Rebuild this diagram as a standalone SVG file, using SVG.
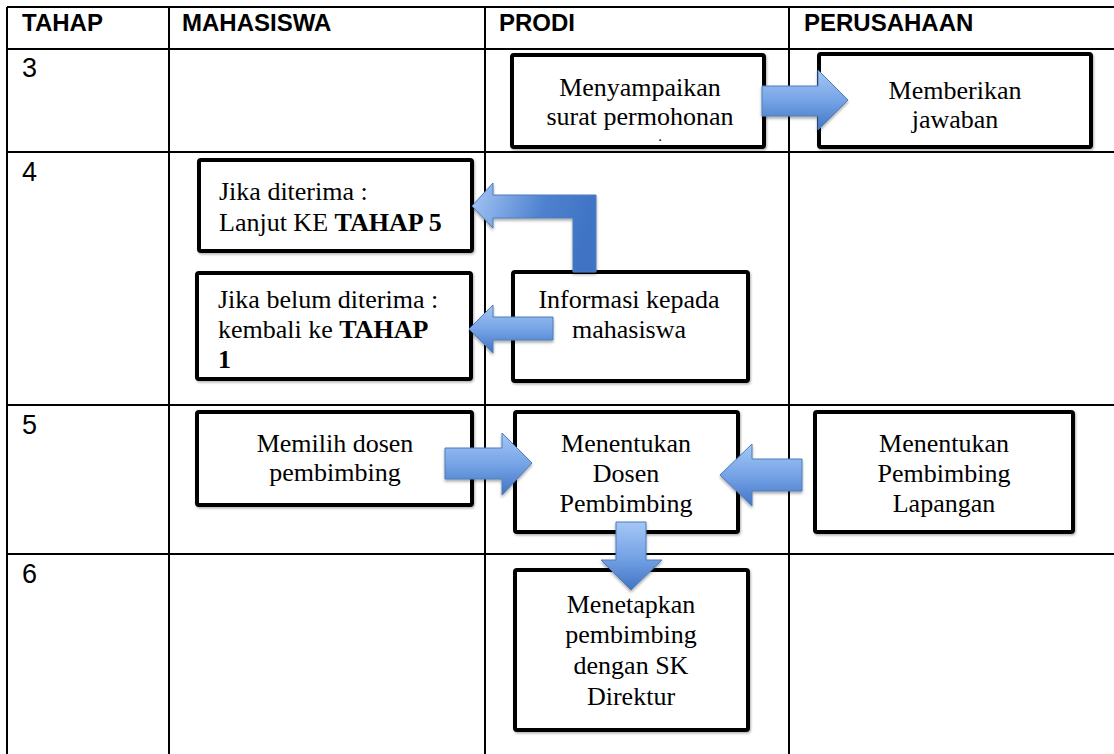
<svg xmlns="http://www.w3.org/2000/svg" width="1114" height="754" viewBox="0 0 1114 754">
<defs>
<linearGradient id="gv" x1="0" y1="0" x2="0" y2="1">
<stop offset="0" stop-color="#a6c7f6"/>
<stop offset="0.5" stop-color="#76a4e6"/>
<stop offset="1" stop-color="#4274c5"/>
</linearGradient>
<linearGradient id="gh" x1="0" y1="0" x2="1" y2="0.25">
<stop offset="0" stop-color="#a6c7f6"/>
<stop offset="0.6" stop-color="#4f82cf"/>
<stop offset="1" stop-color="#3f73c4"/>
</linearGradient>
<filter id="sh" x="-20%" y="-20%" width="140%" height="150%">
<feDropShadow dx="0" dy="2" stdDeviation="1.5" flood-color="#000" flood-opacity="0.35"/>
</filter>
<filter id="bs" x="-5%" y="-5%" width="110%" height="115%">
<feDropShadow dx="1" dy="1.5" stdDeviation="1" flood-color="#000" flood-opacity="0.3"/>
</filter>
</defs>
<style>
.grid{stroke:#000;stroke-width:2;fill:none}
.hd{font-family:"Liberation Sans",Arial,sans-serif;font-weight:bold;font-size:24px;fill:#000}
.num{font-family:"Liberation Sans",Arial,sans-serif;font-size:27px;fill:#000}
.box{fill:#fff;stroke:#000;stroke-width:4;filter:url(#bs)}
.t{font-family:"Liberation Serif","Times New Roman",serif;font-size:26px;fill:#000}
.c{text-anchor:middle}
.b{font-weight:bold}
.dot{font-family:"Liberation Serif","Times New Roman",serif;font-size:11px;font-weight:bold;fill:#000;text-anchor:middle}
.arrow{fill:url(#gv);stroke:#4a7ebb;stroke-width:1;filter:url(#sh)}
.bent{fill:url(#gh);stroke:#4a7ebb;stroke-width:1;filter:url(#sh)}
</style>
<rect width="1114" height="754" fill="#fff"/>
<g id="table">
<path class="grid" d="M7,7 H1114 M7,49 H1114 M7,152 H1114 M7,405 H1114 M7,554 H1114 M7,7 V754 M169,7 V754 M485,7 V754 M789,7 V754"/>
<text class="hd" x="22" y="31">TAHAP</text>
<text class="hd" x="182" y="31">MAHASISWA</text>
<text class="hd" x="499" y="31">PRODI</text>
<text class="hd" x="804" y="31">PERUSAHAAN</text>
<text class="num" x="22" y="77">3</text>
<text class="num" x="22" y="181">4</text>
<text class="num" x="22" y="434">5</text>
<text class="num" x="22" y="583">6</text>
</g>
<g id="n-menyampaikan">
<rect class="box" x="512" y="55" width="252" height="92" rx="2"/>
<text class="t c" x="640" y="96">Menyampaikan</text>
<text class="t c" x="640" y="125">surat permohonan</text>
<text class="dot" x="660" y="141">.</text>
</g>
<g id="n-memberikan">
<rect class="box" x="819" y="54" width="272" height="93" rx="2"/>
<text class="t c" x="955" y="99">Memberikan</text>
<text class="t c" x="955" y="128">jawaban</text>
</g>
<g id="n-diterima">
<rect class="box" x="199" y="160" width="273" height="91" rx="2"/>
<text class="t" x="219" y="200">Jika diterima :</text>
<text class="t" x="219" y="231">Lanjut KE <tspan class="b">TAHAP 5</tspan></text>
</g>
<g id="n-belum">
<rect class="box" x="197" y="273" width="274" height="106" rx="2"/>
<text class="t" x="218" y="308">Jika belum diterima :</text>
<text class="t" x="218" y="338">kembali ke <tspan class="b">TAHAP</tspan></text>
<text class="t b" x="218" y="368">1</text>
</g>
<g id="n-informasi">
<rect class="box" x="513" y="272" width="235" height="109" rx="2"/>
<text class="t c" x="629" y="308">Informasi kepada</text>
<text class="t c" x="629" y="338">mahasiswa</text>
</g>
<g id="n-memilih">
<rect class="box" x="197" y="412" width="275" height="93" rx="2"/>
<text class="t c" x="335" y="452">Memilih dosen</text>
<text class="t c" x="335" y="481">pembimbing</text>
</g>
<g id="n-dosen">
<rect class="box" x="515" y="412" width="223" height="120" rx="2"/>
<text class="t c" x="626" y="452">Menentukan</text>
<text class="t c" x="626" y="482">Dosen</text>
<text class="t c" x="626" y="512">Pembimbing</text>
</g>
<g id="n-lapangan">
<rect class="box" x="815" y="412" width="258" height="120" rx="2"/>
<text class="t c" x="944" y="452">Menentukan</text>
<text class="t c" x="944" y="482">Pembimbing</text>
<text class="t c" x="944" y="512">Lapangan</text>
</g>
<g id="n-menetapkan">
<rect class="box" x="515" y="570" width="233" height="160" rx="2"/>
<text class="t c" x="631" y="613">Menetapkan</text>
<text class="t c" x="631" y="643">pembimbing</text>
<text class="t c" x="631" y="674">dengan SK</text>
<text class="t c" x="631" y="705">Direktur</text>
</g>
<g id="connectors">
<path class="arrow" d="M762,86 H818 V70 L848,100 L818,130 V116 H762 Z"/>
<path class="bent" d="M596,272 V195 H493 V183 L472,206 L493,228 V218 H573 V272 Z"/>
<path class="arrow" d="M553,317 H493 V305 L469,329 L493,353 V340 H553 Z"/>
<path class="arrow" d="M445,448 H502 V433 L532,463 L502,495 V479 H445 Z"/>
<path class="arrow" d="M802,459 H752 V444 L720,475 L752,506 V491 H802 Z"/>
<path class="arrow" d="M616,522 H646 V560 H662 L631,590 L601,560 H616 Z"/>
</g>
</svg>
